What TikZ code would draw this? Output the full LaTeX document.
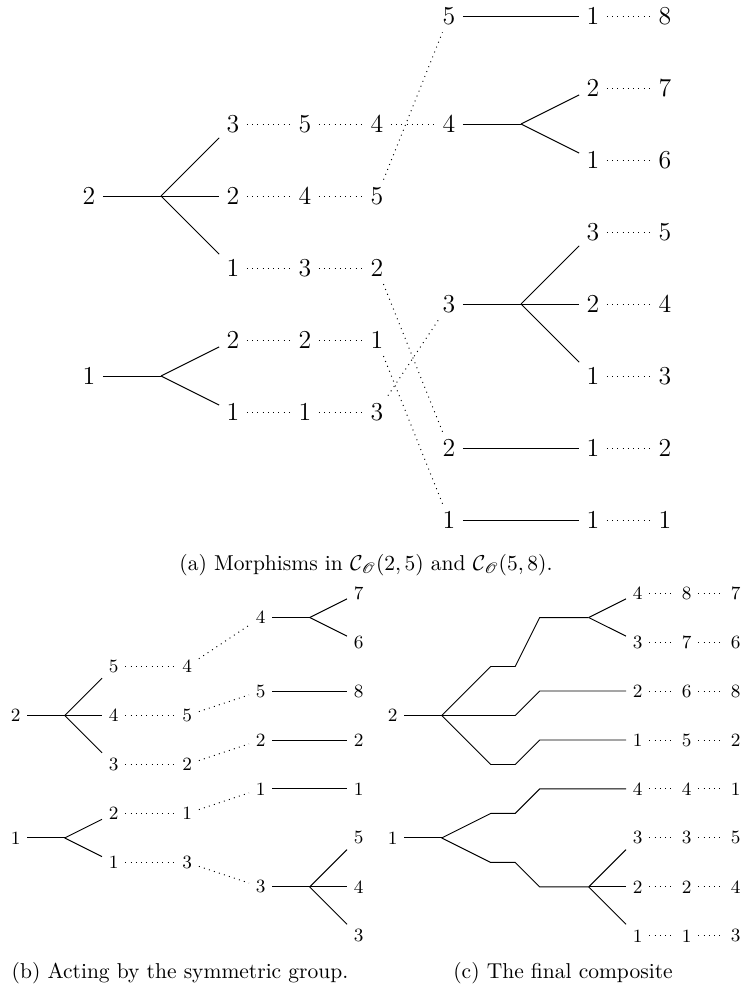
\documentclass[tikz,border=0pt]{standalone}
\usepackage{amsmath}
\usepackage{mathrsfs}
\begin{document}
\begin{tikzpicture}[x=0.465pt,y=-0.465pt]
\tikzset{
  la/.style={font=\fontsize{12}{14}\selectfont, inner sep=3.3pt},
  lb/.style={font=\fontsize{8.7}{10}\selectfont, inner sep=3pt},
  solidln/.style={draw, line width=0.45pt},
  dotln/.style={draw, dotted, line width=0.45pt},
  captxt/.style={font=\fontsize{10}{12}\selectfont, inner sep=0pt}
}
\useasboundingbox (0,0) rectangle (743,991);

% ================= (a) =================
\begin{scope}[shift={(41.39pt,-7.44pt)}, x=33.48pt, y=-16.74pt]
  % root 2
  \node[la] (aR2) at (0,5) {2};
  \coordinate (aB2) at (1,5);
  \node[la] (aL3) at (2,3) {3};
  \node[la] (aL2) at (2,5) {2};
  \node[la] (aL1) at (2,7) {1};
  \node[la] (aM5) at (3,3) {5};
  \node[la] (aM4) at (3,5) {4};
  \node[la] (aM3) at (3,7) {3};
  \node[la] (aN4) at (4,3) {4};
  \node[la] (aN5) at (4,5) {5};
  \node[la] (aN2) at (4,7) {2};
  \draw[solidln] (aR2) -- (aB2);
  \draw[solidln] (aB2) -- (aL3);
  \draw[solidln] (aB2) -- (aL2);
  \draw[solidln] (aB2) -- (aL1);
  \draw[dotln] (aL3) -- (aM5);
  \draw[dotln] (aM5) -- (aN4);
  \draw[dotln] (aL2) -- (aM4);
  \draw[dotln] (aM4) -- (aN5);
  \draw[dotln] (aL1) -- (aM3);
  \draw[dotln] (aM3) -- (aN2);
  % root 1
  \node[la] (aR1) at (0,10) {1};
  \coordinate (aB1) at (1,10);
  \node[la] (aK2) at (2,9) {2};
  \node[la] (aK1) at (2,11) {1};
  \node[la] (aP2) at (3,9) {2};
  \node[la] (aP1) at (3,11) {1};
  \node[la] (aQ1) at (4,9) {1};
  \node[la] (aQ3) at (4,11) {3};
  \draw[solidln] (aR1) -- (aB1);
  \draw[solidln] (aB1) -- (aK2);
  \draw[solidln] (aB1) -- (aK1);
  \draw[dotln] (aK2) -- (aP2);
  \draw[dotln] (aP2) -- (aQ1);
  \draw[dotln] (aK1) -- (aP1);
  \draw[dotln] (aP1) -- (aQ3);
  % right side
  \node[la] (bR5) at (5,0) {5};
  \node[la] (bE5) at (7,0) {1};
  \node[la] (bF5) at (8,0) {8};
  \draw[solidln] (bR5) -- (bE5);
  \draw[dotln] (bE5) -- (bF5);

  \node[la] (bR4) at (5,3) {4};
  \coordinate (bB4) at (6,3);
  \node[la] (bE42) at (7,2) {2};
  \node[la] (bE41) at (7,4) {1};
  \node[la] (bF42) at (8,2) {7};
  \node[la] (bF41) at (8,4) {6};
  \draw[solidln] (bR4) -- (bB4);
  \draw[solidln] (bB4) -- (bE42);
  \draw[solidln] (bB4) -- (bE41);
  \draw[dotln] (bE42) -- (bF42);
  \draw[dotln] (bE41) -- (bF41);

  \node[la] (bR3) at (5,8) {3};
  \coordinate (bB3) at (6,8);
  \node[la] (bE33) at (7,6) {3};
  \node[la] (bE32) at (7,8) {2};
  \node[la] (bE31) at (7,10) {1};
  \node[la] (bF33) at (8,6) {5};
  \node[la] (bF32) at (8,8) {4};
  \node[la] (bF31) at (8,10) {3};
  \draw[solidln] (bR3) -- (bB3);
  \draw[solidln] (bB3) -- (bE33);
  \draw[solidln] (bB3) -- (bE32);
  \draw[solidln] (bB3) -- (bE31);
  \draw[dotln] (bE33) -- (bF33);
  \draw[dotln] (bE32) -- (bF32);
  \draw[dotln] (bE31) -- (bF31);

  \node[la] (bR2) at (5,12) {2};
  \node[la] (bE2) at (7,12) {1};
  \node[la] (bF2) at (8,12) {2};
  \draw[solidln] (bR2) -- (bE2);
  \draw[dotln] (bE2) -- (bF2);

  \node[la] (bR1) at (5,14) {1};
  \node[la] (bE1) at (7,14) {1};
  \node[la] (bF1) at (8,14) {1};
  \draw[solidln] (bR1) -- (bE1);
  \draw[dotln] (bE1) -- (bF1);

  % crossing dotted connectors
  \draw[dotln] (aN4) -- (bR4);
  \draw[dotln] (aN5) -- (bR5);
  \draw[dotln] (aN2) -- (bR2);
  \draw[dotln] (aQ1) -- (bR1);
  \draw[dotln] (aQ3) -- (bR3);
\end{scope}
\node[captxt] (capa) at (366,565) {(a) Morphisms in $\mathcal{C}_{\mathscr{O}}(2,5)$ and $\mathcal{C}_{\mathscr{O}}(5,8)$.};

% ================= (b) =================
\begin{scope}[shift={(7.30pt,-275.75pt)}, x=22.785pt, y=-11.39pt]
  \node[lb] (pR2) at (0,5) {2};
  \coordinate (pB2) at (1,5);
  \node[lb] (pL5) at (2,3) {5};
  \node[lb] (pL4) at (2,5) {4};
  \node[lb] (pL3) at (2,7) {3};
  \node[lb] (pM4) at (3.5,3) {4};
  \node[lb] (pM5) at (3.5,5) {5};
  \node[lb] (pM2) at (3.5,7) {2};
  \draw[solidln] (pR2) -- (pB2);
  \draw[solidln] (pB2) -- (pL5);
  \draw[solidln] (pB2) -- (pL4);
  \draw[solidln] (pB2) -- (pL3);
  \draw[dotln] (pL5) -- (pM4);
  \draw[dotln] (pL4) -- (pM5);
  \draw[dotln] (pL3) -- (pM2);

  \node[lb] (pR1) at (0,10) {1};
  \coordinate (pB1) at (1,10);
  \node[lb] (pK2) at (2,9) {2};
  \node[lb] (pK1) at (2,11) {1};
  \node[lb] (pP1) at (3.5,9) {1};
  \node[lb] (pP3) at (3.5,11) {3};
  \draw[solidln] (pR1) -- (pB1);
  \draw[solidln] (pB1) -- (pK2);
  \draw[solidln] (pB1) -- (pK1);
  \draw[dotln] (pK2) -- (pP1);
  \draw[dotln] (pK1) -- (pP3);

  \node[lb] (qR4) at (5,1) {4};
  \coordinate (qB4) at (6,1);
  \node[lb] (qE7) at (7,0) {7};
  \node[lb] (qE6) at (7,2) {6};
  \draw[solidln] (qR4) -- (qB4);
  \draw[solidln] (qB4) -- (qE7);
  \draw[solidln] (qB4) -- (qE6);

  \node[lb] (qR5) at (5,4) {5};
  \node[lb] (qE8) at (7,4) {8};
  \draw[solidln] (qR5) -- (qE8);

  \node[lb] (qR2) at (5,6) {2};
  \node[lb] (qE2) at (7,6) {2};
  \draw[solidln] (qR2) -- (qE2);

  \node[lb] (qR1) at (5,8) {1};
  \node[lb] (qE1) at (7,8) {1};
  \draw[solidln] (qR1) -- (qE1);

  \node[lb] (qR3) at (5,12) {3};
  \coordinate (qB3) at (6,12);
  \node[lb] (qE5) at (7,10) {5};
  \node[lb] (qE4) at (7,12) {4};
  \node[lb] (qE3) at (7,14) {3};
  \draw[solidln] (qR3) -- (qB3);
  \draw[solidln] (qB3) -- (qE5);
  \draw[solidln] (qB3) -- (qE4);
  \draw[solidln] (qB3) -- (qE3);

  \draw[dotln] (pM4) -- (qR4);
  \draw[dotln] (pM5) -- (qR5);
  \draw[dotln] (pM2) -- (qR2);
  \draw[dotln] (pP1) -- (qR1);
  \draw[dotln] (pP3) -- (qR3);
\end{scope}
\node[captxt] (capb) at (180,973) {(b) Acting by the symmetric group.};

% ================= (c) =================
\begin{scope}[shift={(182.60pt,-275.75pt)}, x=22.785pt, y=-11.39pt]
  \node[lb] (cR2) at (0,5) {2};
  \coordinate (cB2) at (1,5);
  \coordinate (cU1) at (2,3);
  \coordinate (cU2) at (2.5,3);
  \coordinate (cU3) at (3,1);
  \coordinate (cU4) at (4,1);
  \coordinate (cV1) at (2.5,5);
  \coordinate (cV2) at (3,4);
  \coordinate (cW1) at (2,7);
  \coordinate (cW2) at (2.5,7);
  \coordinate (cW3) at (3,6);
  \node[lb] (c0a) at (5,0) {4};
  \node[lb] (c0b) at (6,0) {8};
  \node[lb] (c0c) at (7,0) {7};
  \node[lb] (c2a) at (5,2) {3};
  \node[lb] (c2b) at (6,2) {7};
  \node[lb] (c2c) at (7,2) {6};
  \node[lb] (c4a) at (5,4) {2};
  \node[lb] (c4b) at (6,4) {6};
  \node[lb] (c4c) at (7,4) {8};
  \node[lb] (c6a) at (5,6) {1};
  \node[lb] (c6b) at (6,6) {5};
  \node[lb] (c6c) at (7,6) {2};
  \draw[solidln] (cR2) -- (cB2);
  \draw[solidln] (cB2) -- (cU1) -- (cU2) -- (cU3) -- (cU4);
  \draw[solidln] (cU4) -- (c0a);
  \draw[solidln] (cU4) -- (c2a);
  \draw[solidln] (cB2) -- (cV1) -- (cV2) -- (c4a);
  \draw[solidln] (cB2) -- (cW1) -- (cW2) -- (cW3) -- (c6a);
  \draw[dotln] (c0a) -- (c0b);
  \draw[dotln] (c0b) -- (c0c);
  \draw[dotln] (c2a) -- (c2b);
  \draw[dotln] (c2b) -- (c2c);
  \draw[dotln] (c4a) -- (c4b);
  \draw[dotln] (c4b) -- (c4c);
  \draw[dotln] (c6a) -- (c6b);
  \draw[dotln] (c6b) -- (c6c);

  \node[lb] (cR1) at (0,10) {1};
  \coordinate (cB1) at (1,10);
  \coordinate (cX1) at (2,9);
  \coordinate (cX2) at (2.5,9);
  \coordinate (cX3) at (3,8);
  \coordinate (cY1) at (2,11);
  \coordinate (cY2) at (2.5,11);
  \coordinate (cY3) at (3,12);
  \coordinate (cY4) at (4,12);
  \node[lb] (c8a) at (5,8) {4};
  \node[lb] (c8b) at (6,8) {4};
  \node[lb] (c8c) at (7,8) {1};
  \node[lb] (c10a) at (5,10) {3};
  \node[lb] (c10b) at (6,10) {3};
  \node[lb] (c10c) at (7,10) {5};
  \node[lb] (c12a) at (5,12) {2};
  \node[lb] (c12b) at (6,12) {2};
  \node[lb] (c12c) at (7,12) {4};
  \node[lb] (c14a) at (5,14) {1};
  \node[lb] (c14b) at (6,14) {1};
  \node[lb] (c14c) at (7,14) {3};
  \draw[solidln] (cR1) -- (cB1);
  \draw[solidln] (cB1) -- (cX1) -- (cX2) -- (cX3) -- (c8a);
  \draw[solidln] (cB1) -- (cY1) -- (cY2) -- (cY3) -- (cY4);
  \draw[solidln] (cY4) -- (c10a);
  \draw[solidln] (cY4) -- (c12a);
  \draw[solidln] (cY4) -- (c14a);
  \draw[dotln] (c8a) -- (c8b);
  \draw[dotln] (c8b) -- (c8c);
  \draw[dotln] (c10a) -- (c10b);
  \draw[dotln] (c10b) -- (c10c);
  \draw[dotln] (c12a) -- (c12b);
  \draw[dotln] (c12b) -- (c12c);
  \draw[dotln] (c14a) -- (c14b);
  \draw[dotln] (c14b) -- (c14c);
\end{scope}
\node[captxt] (capc) at (563,973) {(c) The final composite};
\end{tikzpicture}
\end{document}
